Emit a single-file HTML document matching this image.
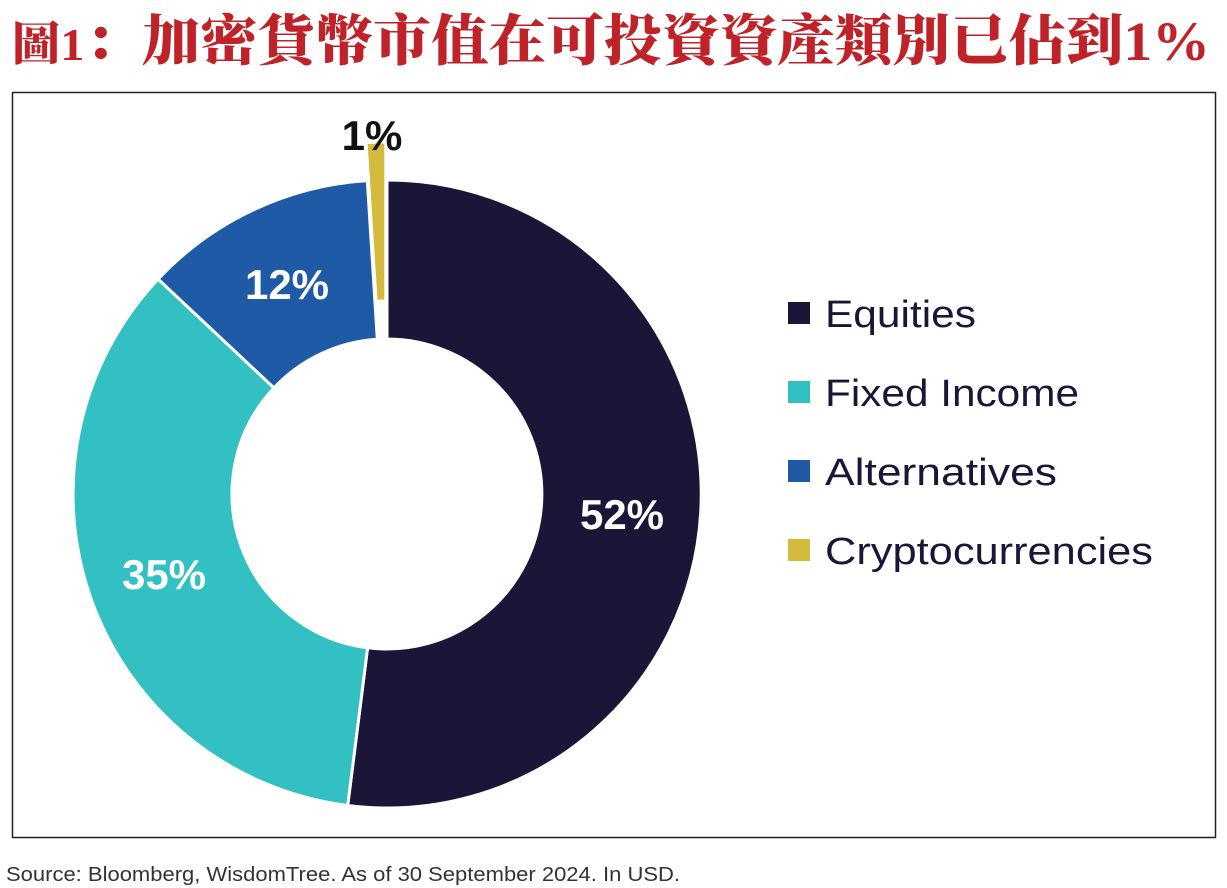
<!DOCTYPE html>
<html><head><meta charset="utf-8"><style>
html,body{margin:0;padding:0;background:#fff;}
svg{display:block;}
</style></head><body>
<svg width="1227" height="888" viewBox="0 0 1227 888" xmlns="http://www.w3.org/2000/svg">
<rect width="1227" height="888" fill="#fff"/>
<text x="12" y="60" fill="#bf2228" font-family="'Liberation Serif','Noto Serif CJK SC',serif" font-weight="900" textLength="1198" lengthAdjust="spacingAndGlyphs"><tspan font-size="46">圖1</tspan><tspan font-size="55">：加密貨幣市值在可投資資產類別已佔到1%</tspan></text>
<rect x="12.5" y="92.5" width="1203" height="745" fill="none" stroke="#222" stroke-width="1.5"/>
<g stroke="#fff" stroke-width="3" stroke-linejoin="miter">
<path d="M387,180 A314,314 0 1 1 347.7,805.5 L367.6,647.8 A155,155 0 1 0 387,339 Z" fill="#1b1638"/>
<path d="M347.7,805.5 A314,314 0 0 1 158.1,279.1 L274,387.9 A155,155 0 0 0 367.6,647.8 Z" fill="#33c0c3"/>
<path d="M158.1,279.1 A314,314 0 0 1 367.3,180.6 L377.3,339.3 A155,155 0 0 0 274,387.9 Z" fill="#1f5aa6"/>
<path d="M366.1,142.6 A314,314 0 0 1 385.8,142 L385.8,301 A155,155 0 0 0 376.1,301.3 Z" fill="#d4bb3e"/>
</g>
<g font-family="'Liberation Sans','DejaVu Sans',sans-serif" font-weight="bold" font-size="42" text-anchor="middle">
<text x="622" y="529" fill="#fff">52%</text>
<text x="164" y="589" fill="#fff">35%</text>
<text x="287" y="299" fill="#fff">12%</text>
<text x="372" y="150" fill="#111">1%</text>
</g>
<g font-family="'Liberation Sans','DejaVu Sans',sans-serif" font-size="38" fill="#1b1638">
<rect x="788" y="302" width="22" height="22" fill="#1b1638"/>
<text x="825" y="327" textLength="151" lengthAdjust="spacingAndGlyphs">Equities</text>
<rect x="788" y="381" width="22" height="22" fill="#33c0c3"/>
<text x="825" y="406" textLength="254" lengthAdjust="spacingAndGlyphs">Fixed Income</text>
<rect x="788" y="460" width="22" height="22" fill="#1f5aa6"/>
<text x="825" y="485" textLength="232" lengthAdjust="spacingAndGlyphs">Alternatives</text>
<rect x="788" y="539" width="22" height="22" fill="#d4bb3e"/>
<text x="825" y="564" textLength="328" lengthAdjust="spacingAndGlyphs">Cryptocurrencies</text>
</g>
<text x="6" y="881" font-family="'Liberation Sans',sans-serif" font-size="20" fill="#333" textLength="674" lengthAdjust="spacingAndGlyphs">Source: Bloomberg, WisdomTree. As of 30 September 2024. In USD.</text>
</svg>
</body></html>
